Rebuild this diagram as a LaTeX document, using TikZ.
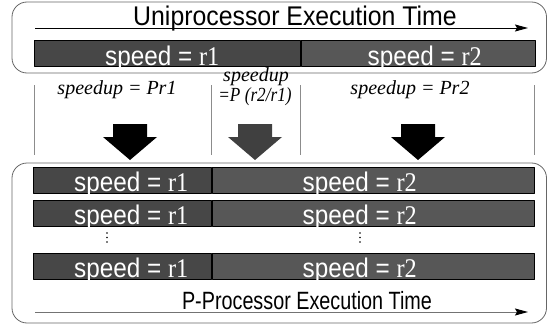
\documentclass[tikz,border=0pt]{standalone}
\usepackage{fontspec}
\setmainfont{Liberation Sans}
\newfontfamily\serifr{Liberation Serif}
\usetikzlibrary{arrows.meta,positioning}
\newcommand\rval[1]{{\serifr r#1}}

\begin{document}
\begin{tikzpicture}[x=1pt,y=-1pt,line join=round,>={Stealth[length=13pt,width=7pt,inset=2pt]}]

		\tikzset{frame/.style={draw=black!60,line width=.8pt,rounded corners=15pt},
			seg/.style={draw=black,line width=.5pt,inner sep=0pt,anchor=north west,minimum height=26pt},
			segA/.style={seg,fill=black!72},
			segB/.style={seg,fill=black!66},
			speedtxt/.style={text=white,font=\fontsize{27}{27}\selectfont,anchor=base,inner sep=0pt,xscale=.9},
			title/.style={font=\fontsize{27}{27}\selectfont,anchor=base,inner sep=0pt,xscale=.92},
			gain/.style={font=\serifr\itshape\fontsize{20}{20}\selectfont,anchor=base,inner sep=0pt}}

		\useasboundingbox (0,0) rectangle (547,324);
		\draw[frame] (12,2) rectangle (546.5,73);
		\draw[frame] (12,163) rectangle (546.5,323);

		\coordinate (t0) at (35,28);
		\coordinate (t1) at (528,28);
		\draw[->,line width=.9pt] (t0)--(t1);
		\node[title] (uni) at (295,26) {Uniprocessor Execution Time};

		\node[segA,minimum width=266pt] (uL) at (34,40) {};
		\node[segB,minimum width=234pt] (uR) at (uL.north east) {};
		\node[speedtxt] (uLt) at ([xshift=-5pt,yshift=1pt]uL.south) {speed = \rval{1}};
		\node[speedtxt] (uRt) at ([xshift=7pt,yshift=1pt]uR.south) {speed = \rval{2}};

		\foreach \x in {34,211,300,534}
		\draw[black!45,line width=.6pt] (\x,85)--(\x,155);
		\node[gain] (g1) at (117,94) {speedup = Pr1};
		\node[gain] (g2) at (256,81) {speedup};
		\node[gain,xscale=.86] (g2b) at (255,101) {=P (r2/r1)};
		\node[gain] (g3) at (410,94) {speedup = Pr2};

		\foreach \cx/\col in {130/black,255/black!75,418/black}
		\fill[\col] (\cx-17,124)--(\cx+17,124)--(\cx+17,137)--(\cx+27,137)--(\cx,160)--(\cx-27,137)--(\cx-17,137)--cycle;

		\foreach \y/\n in {167/1,200/2,253/3} {
			\node[segA,minimum width=178pt] (pL\n) at (33,\y) {};
			\node[segB,minimum width=322pt] (pR\n) at (pL\n.north east) {};
			\node[speedtxt] (pL\n t) at ([xshift=9pt,yshift=2pt]pL\n.south) {speed = \rval{1}};
			\node[speedtxt] (pR\n t) at ([xshift=-13pt,yshift=2pt]pR\n.south) {speed = \rval{2}};
		}
		\foreach \x in {107,360}
		\foreach \y in {233,237.5,242}
		\fill (\x,\y) circle (.9pt);

		\coordinate (b0) at (35,312);
		\coordinate (b1) at (528,312);
		\draw[draw=black!55,line width=.9pt,-{Stealth[length=13pt,width=7pt,inset=2pt,color=black]}] (b0)--(b1);
		\node[title,font=\fontsize{25}{25}\selectfont,xscale=.86] (pp) at (307,309) {P-Processor Execution Time};
		\end{tikzpicture}
\end{document}
